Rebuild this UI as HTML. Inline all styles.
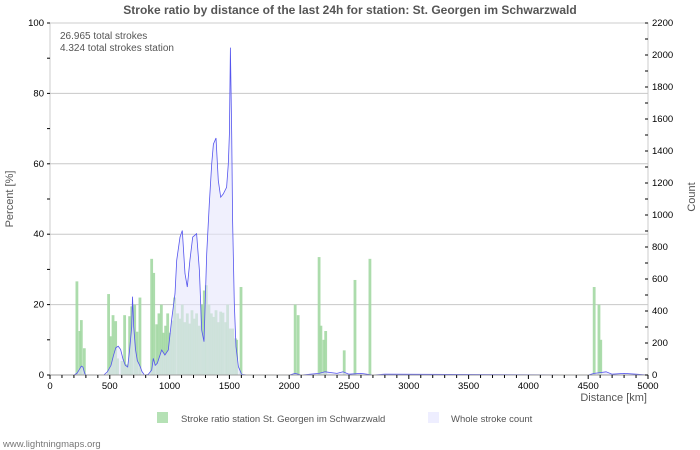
<!DOCTYPE html>
<html><head><meta charset="utf-8"><style>
body{margin:0;background:#fff;}
svg{display:block;font-family:"Liberation Sans","DejaVu Sans",sans-serif;}
</style></head><body>
<svg id="chart" width="700" height="450">
<text x="350" y="14" text-anchor="middle" font-size="12" font-weight="bold" fill="#555">Stroke ratio by distance of the last 24h for station: St. Georgen im Schwarzwald</text>
<g id="grid"></g>
<g id="bars"></g>
<g id="line"></g>
<g id="axes"></g>
<text x="60" y="39" font-size="10" fill="#555">26.965 total strokes</text>
<text x="60" y="51" font-size="10" fill="#555">4.324 total strokes station</text>
<text transform="translate(13,199) rotate(-90)" text-anchor="middle" font-size="11" fill="#555">Percent   [%]</text>
<text transform="translate(695,197) rotate(-90)" text-anchor="middle" font-size="11" fill="#555">Count</text>
<text x="647" y="401" text-anchor="end" font-size="11" fill="#555">Distance   [km]</text>
<rect x="157" y="412" width="11" height="11" fill="#b5e1b5"/>
<text x="181" y="422" font-size="9.5" fill="#555">Stroke ratio station St. Georgen im Schwarzwald</text>
<rect x="428" y="412" width="11" height="11" fill="#eeeeff"/>
<text x="451" y="422" font-size="9.5" fill="#555">Whole stroke count</text>
<text x="3" y="447" font-size="9.5" fill="#777">www.lightningmaps.org</text>
</svg>
<script>
const barKm=[225,250,262,287,490,505,527,549,565,602,624,644,666,683,708,727,752,850,867,892,911,931,948,967,984,1003,1023,1042,1067,1087,1106,1126,1148,1168,1187,1207,1226,1246,1268,1290,1307,1329,1349,1368,1388,1407,1427,1446,1469,1485,1505,1527,1550,1561,1597,2050,2075,2250,2265,2290,2305,2460,2550,2675,4550,4590,4605];
const barPct=[26.6,12.5,15.6,7.6,23,11,17,15.3,4.7,4,17,3,16.7,19.5,20,12.3,22,33,29,14.4,17.5,20,12,14,17.5,12,15.5,22,17.5,16,20,15,17.5,14.6,18.4,16,17.5,14,20,24,25.5,20,17.5,16.5,18.4,15,18,17.7,15,20,13.2,13.2,10.4,10,25,20,17,33.5,14,10,12.5,7,27,33,25,20,10];
const lineKm=[0,200,225,250,262,275,290,300,450,480,510,530,550,570,590,610,630,650,665,683,690,700,715,730,750,770,790,822,850,864,880,897,934,961,989,1017,1045,1059,1087,1106,1129,1148,1170,1193,1226,1249,1268,1288,1310,1332,1352,1366,1388,1407,1427,1449,1477,1491,1500,1508,1519,1527,1541,1555,1575,1602,1650,2000,2050,2100,2250,2300,2350,2400,2450,2500,2600,2700,2800,4500,4550,4600,4650,4700,4800,4900,5000];
const lineCount=[0,0,10,40,55,50,10,0,0,20,60,120,170,180,160,100,60,50,150,300,490,300,160,90,60,20,0,4,31,104,60,73,156,125,156,343,509,717,862,903,634,550,717,862,883,654,280,208,758,1070,1319,1443,1481,1215,1111,1132,1173,1319,1506,2046,1506,966,447,177,52,4,0,0,10,0,10,20,15,10,20,5,10,0,5,0,10,15,20,5,10,5,0];
const leftTicks=[0,20,40,60,80,100];
const rightTicks=[0,200,400,600,800,1000,1200,1400,1600,1800,2000,2200];
const xTicks=[0,500,1000,1500,2000,2500,3000,3500,4000,4500,5000];
const NS='http://www.w3.org/2000/svg';
const X0=50,X1=648,Y0=375,Y1=23;
const xs=k=>X0+k/5000*(X1-X0);
const yp=p=>Y0-p/100*(Y0-Y1);
const yc=c=>Y0-c/2200*(Y0-Y1);
function mk(tag,attrs,parent){const e=document.createElementNS(NS,tag);for(const k in attrs)e.setAttribute(k,attrs[k]);document.getElementById(parent).appendChild(e);return e;}
mk('rect',{x:X0,y:Y1,width:X1-X0,height:Y0-Y1,fill:'none',stroke:'#ccc'},'grid');
leftTicks.forEach(t=>{if(t>0&&t<100){const l=mk('line',{x1:X0,x2:X1,y1:yp(t),y2:yp(t),stroke:'#c8c8c8'},'grid');

}});
barKm.forEach((k,i)=>{const r=mk('rect',{x:xs(k)-1.4,y:yp(barPct[i]),width:2.8,height:Y0-yp(barPct[i]),fill:'#a3d8a3','fill-opacity':0.9},'bars');

});
let pts=lineKm.map((k,i)=>xs(k).toFixed(1)+','+yc(lineCount[i]).toFixed(1)).join(' ');
const area=mk('polygon',{points:xs(0)+','+Y0+' '+pts+' '+xs(5000)+','+Y0,fill:'#e6e6fb','fill-opacity':0.6},'line');


const pl=mk('polyline',{points:pts,fill:'none',stroke:'#5555ee','stroke-width':0.8},'line');


mk('line',{x1:X0,x2:X1,y1:Y0,y2:Y0,stroke:'#999'},'axes');
for(let k=0;k<=5000;k+=100){mk('line',{x1:xs(k),x2:xs(k),y1:Y0,y2:Y0+(k%500?3:4),stroke:'#000'},'axes');}
xTicks.forEach(k=>{const t=mk('text',{x:xs(k),y:Y0+14,'text-anchor':'middle','font-size':9.5,fill:'#000'},'axes');t.textContent=k;

});
for(let p=0;p<=100;p+=10){mk('line',{x1:X0-3,x2:X0,y1:yp(p),y2:yp(p),stroke:'#000'},'axes');}
leftTicks.forEach(p=>{const t=mk('text',{x:X0-6,y:yp(p)+3,'text-anchor':'end','font-size':9.5,fill:'#000'},'axes');t.textContent=p;

});
for(let c=0;c<=2200;c+=100){mk('line',{x1:X1-3,x2:X1,y1:yc(c),y2:yc(c),stroke:'#000'},'axes');}
rightTicks.forEach(c=>{const t=mk('text',{x:X1+4,y:yc(c)+3,'font-size':9.5,fill:'#000'},'axes');t.textContent=c;

});
</script>
</body></html>
